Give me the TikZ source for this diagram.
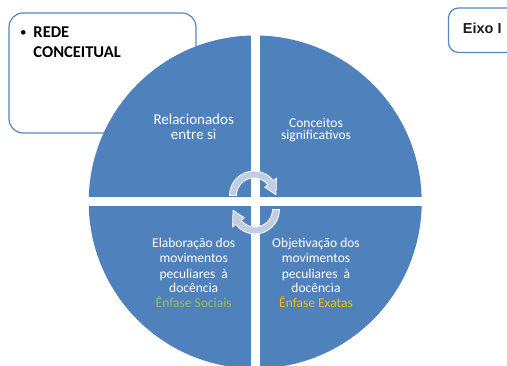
\documentclass[tikz,border=0pt]{standalone}
\usepackage{fontspec}
\setmainfont{Carlito}
\newfontfamily\arialfont{Liberation Sans}
\usetikzlibrary{calc}
\definecolor{quadblue}{RGB}{79,129,189}
\definecolor{boxblue}{RGB}{86,134,192}
\definecolor{arrowfill}{RGB}{192,205,228}
\definecolor{sgreen}{RGB}{155,187,89}
\definecolor{xorange}{RGB}{250,185,0}
\definecolor{darktext}{RGB}{30,30,30}
\begin{document}
\begin{tikzpicture}[x=1pt,y=1pt,
  frame/.style={draw=boxblue, line width=1.2pt, fill=white, inner sep=0pt},
  qtext/.style={text=white, inner sep=0pt, anchor=base},
  qbig/.style={qtext, font=\fontsize{15}{18}\selectfont},
  qmid/.style={qtext, font=\fontsize{13.5}{16}\selectfont},
  arrowstyle/.style={fill=arrowfill, draw=white, line width=0.8pt, line join=round},
  cyc/.pic={
    \filldraw[arrowstyle] (180:24.5pt) arc[start angle=180,end angle=38,radius=24.5pt]
      -- (38:28.5pt) -- (2:22pt) -- (38:13.5pt) -- (38:17.5pt)
      arc[start angle=38,end angle=180,radius=17.5pt] -- cycle;
  }]
\clip (0,0) rectangle (507,366);
\fill[white] (0,0) rectangle (507,366);
% boxes
\node[frame, rounded corners=14pt, minimum width=187pt, minimum height=120pt] (redebox) at (102.5,293) {};
\node[frame, rounded corners=10pt, minimum width=111.5pt, minimum height=44.5pt] (eixobox) at (504.25,335.75) {};
% quadrants
\begin{scope}
  \clip (255.2,164) circle[radius=166.5];
  \fill[quadblue] (0,168.5) rectangle (250.7,366);
  \fill[quadblue] (259.7,168.5) rectangle (507,366);
  \fill[quadblue] (0,0) rectangle (250.7,159.5);
  \fill[quadblue] (259.7,0) rectangle (507,159.5);
\end{scope}
% cycle arrows
\pic at (254,170.5) {cyc};
\pic[rotate=180] at (255,156.5) {cyc};
% box texts
\node[inner sep=0pt, anchor=base, font=\fontsize{13}{16}\selectfont] (bul) at (23.3,329.2) {•};
\node[inner sep=0pt, anchor=base west, font=\fontsize{16.5}{20}\bfseries] (rede1) at (33.3,328.7) {REDE};
\node[inner sep=0pt, anchor=base west, font=\fontsize{16.5}{20}\bfseries] (rede2) at (33.3,308.7) {CONCEITUAL};
\node[inner sep=0pt, anchor=base west, text=darktext, font=\arialfont\bfseries\fontsize{14.5}{17}\selectfont] (eixo) at (462.7,332.7) {Eixo I};
% quadrant texts
\node[qbig] (q1a) at (193.7,241) {Relacionados};
\node[qbig] (q1b) at (193.7,226.7) {entre si};
\node[qmid] (q2a) at (316,238.7) {Conceitos};
\node[qmid] (q2b) at (316,226.7) {significativos};
\node[qmid] (q3a) at (193.7,118.7) {Elaboração dos};
\node[qmid] (q3b) at (193.7,103.3) {movimentos};
\node[qmid] (q3c) at (193.7,87.7) {peculiares~ à};
\node[qmid] (q3d) at (193.7,73.3) {docência};
\node[qmid, text=sgreen] (q3e) at (193.7,58.7) {Ênfase Sociais};
\node[qmid] (q4a) at (316,118.7) {Objetivação dos};
\node[qmid] (q4b) at (316,103.3) {movimentos};
\node[qmid] (q4c) at (316,87.7) {peculiares~ à};
\node[qmid] (q4d) at (316,73.3) {docência};
\node[qmid, text=xorange] (q4e) at (316,58.7) {Ênfase Exatas};
\end{tikzpicture}
\end{document}
